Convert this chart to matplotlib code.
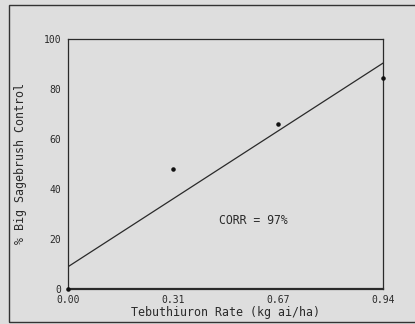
import numpy as np
import matplotlib.pyplot as plt
from matplotlib.patches import Rectangle

# treatment rates (kg ai/ha), plotted at evenly spaced positions
rate_labels = ["0.00", "0.31", "0.67", "0.94"]
rate_pos = [0, 1, 2, 3]
control_pct = [0, 48, 66, 84.5]
y_ticks = [0, 20, 40, 60, 80, 100]

bg = "#dedede"
ink = "#2a2a2a"
plt.rcParams['font.family'] = 'DejaVu Sans Mono'

fig = plt.figure(figsize=(4.15, 3.24), dpi=100, facecolor=bg)
ax = fig.add_axes([68 / 415, 1 - 289 / 324, 315 / 415, 250 / 324])
ax.set_facecolor(bg)

# least squares line through the treatment means
slope, icpt = np.polyfit(rate_pos, control_pct, 1)
xs = np.array([rate_pos[0], rate_pos[-1]])
ax.plot(xs, icpt + slope * xs, color=ink, lw=0.9)
ax.scatter(rate_pos, control_pct, s=5, color="#111111", zorder=3, clip_on=False)

ax.text(1.77, 27.3, "CORR = 97%", ha="center", va="center", fontsize=8.3, color=ink)

ax.set_xlim(0, 3)
ax.set_ylim(0, 100)
ax.set_xticks(rate_pos)
ax.set_xticklabels(rate_labels)
ax.set_yticks(y_ticks)
ax.tick_params(length=0, labelsize=7, colors=ink, pad=5)
ax.tick_params(axis="x", pad=4)
for s in ax.spines.values():
    s.set_color(ink)
    s.set_linewidth(0.9)
ax.spines["bottom"].set_linewidth(1.6)

ax.set_xlabel("Tebuthiuron Rate (kg ai/ha)", fontsize=8.4, color=ink, labelpad=1)
ax.set_ylabel("% Big Sagebrush Control", fontsize=8.4, color=ink, labelpad=12)

# outer border around the whole figure
fig.patches.append(Rectangle((9 / 415, 2 / 324), 420 / 415, 317 / 324,
                             transform=fig.transFigure, fill=False,
                             edgecolor="#333333", lw=1.0))

fig.savefig("out.png", dpi=100, facecolor=bg)
